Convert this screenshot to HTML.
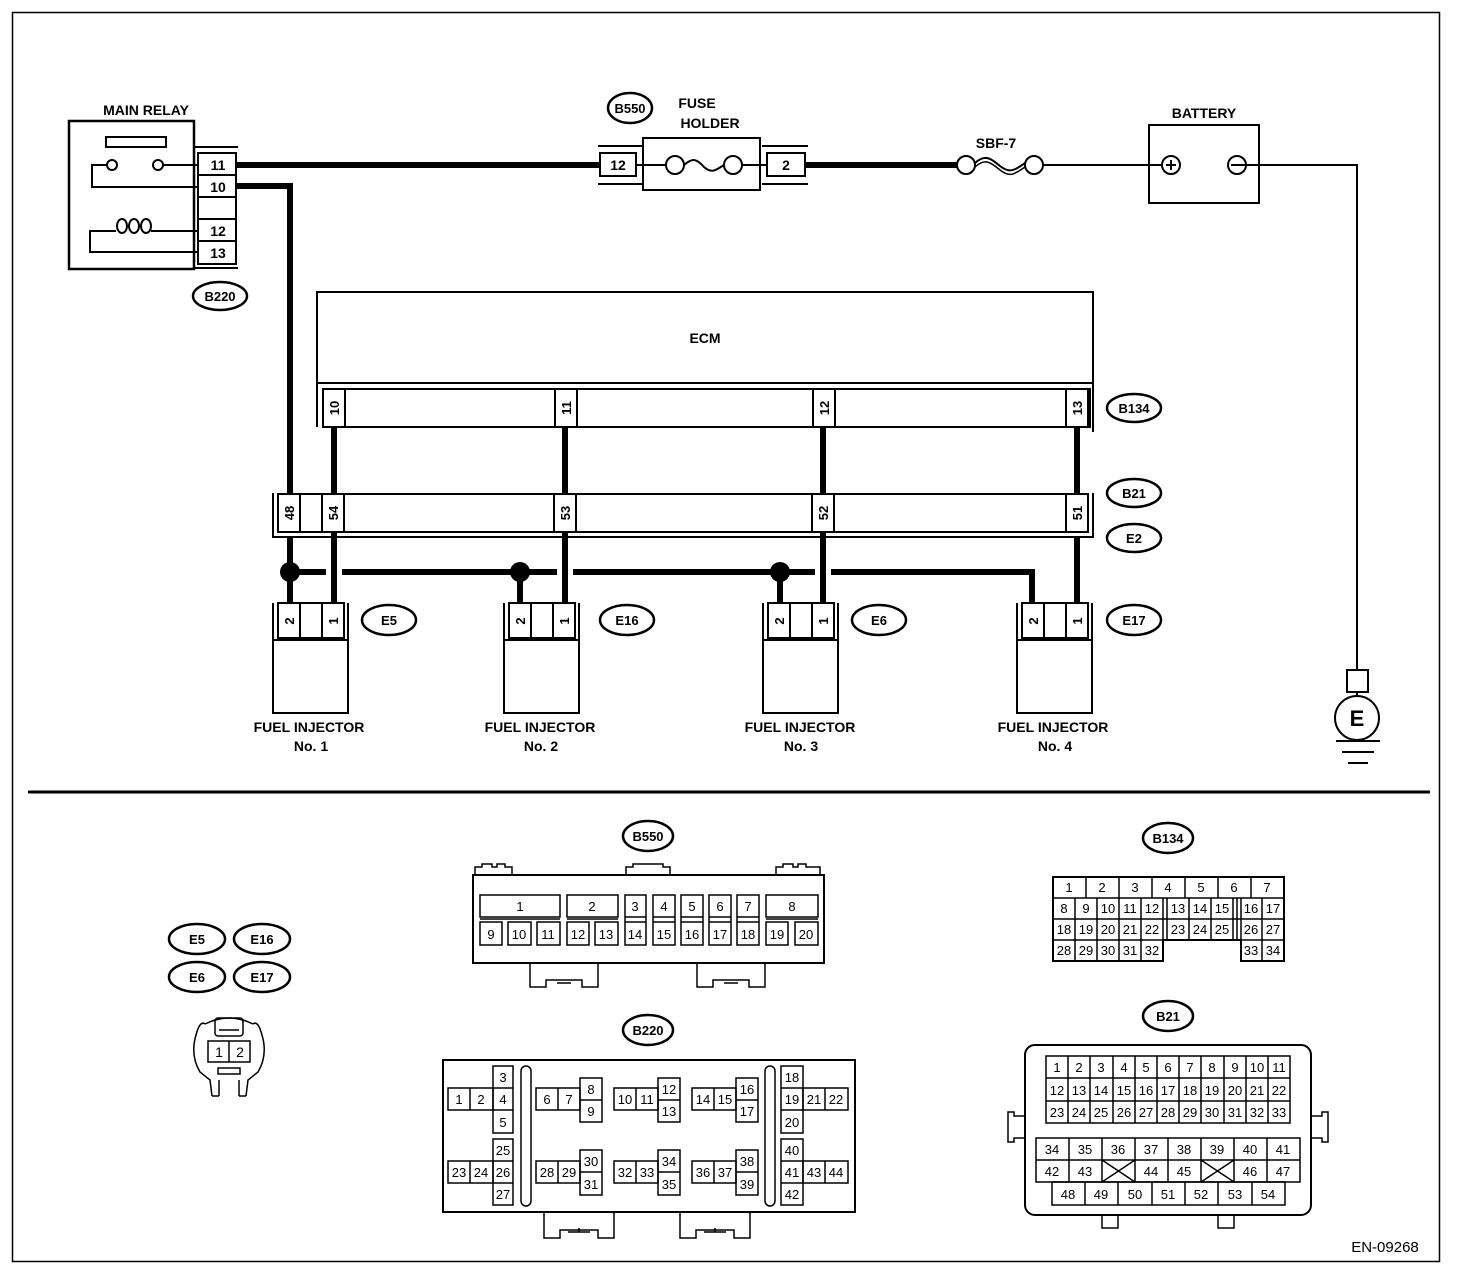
<!DOCTYPE html>
<html><head><meta charset="utf-8">
<style>
html,body{margin:0;padding:0;background:#fff;}
svg{display:block;}
text{font-family:"Liberation Sans",sans-serif;font-weight:bold;fill:#000;}
.n{font-weight:normal;}
</style></head><body>
<svg width="1472" height="1272" viewBox="0 0 1472 1272" xmlns="http://www.w3.org/2000/svg">
<rect x="0" y="0" width="1472" height="1272" fill="#fff"/>
<rect x="12.5" y="12.5" width="1427" height="1249" fill="none" stroke="#000" stroke-width="1.5"/>
<line x1="28" y1="792" x2="1430" y2="792" stroke="#000" stroke-width="3"/>

<g fill="none" stroke="#000" stroke-width="2.5">
<!-- MAIN RELAY -->
<rect x="69" y="121" width="125" height="148"/>
<rect x="106" y="137" width="60" height="10" stroke-width="2"/>
<circle cx="112" cy="165" r="5" stroke-width="2"/>
<circle cx="158" cy="165" r="5" stroke-width="2"/>
<polyline points="107,165 92,165 92,187 197,187" stroke-width="2"/>
<line x1="163" y1="165" x2="197" y2="165" stroke-width="2"/>
<polyline points="116,231 90,231 90,252 197,252" stroke-width="2"/>
<ellipse cx="122" cy="226" rx="5" ry="7" stroke-width="2"/>
<ellipse cx="134" cy="226" rx="5" ry="7" stroke-width="2"/>
<ellipse cx="146" cy="226" rx="5" ry="7" stroke-width="2"/>
<line x1="151" y1="231" x2="197" y2="231" stroke-width="2"/>
<line x1="194" y1="147" x2="238" y2="147" stroke-width="2"/>
<line x1="194" y1="268" x2="238" y2="268" stroke-width="2"/>
<rect x="198" y="153" width="38" height="111" stroke-width="2"/>
<line x1="198" y1="175" x2="236" y2="175" stroke-width="2"/>
<line x1="198" y1="197" x2="236" y2="197" stroke-width="2"/>
<line x1="198" y1="219" x2="236" y2="219" stroke-width="2"/>
<line x1="198" y1="241" x2="236" y2="241" stroke-width="2"/>
<ellipse cx="220" cy="296" rx="27" ry="14"/>

<!-- Fuse holder -->
<line x1="598" y1="146" x2="642" y2="146" stroke-width="2"/>
<line x1="598" y1="184" x2="642" y2="184" stroke-width="2"/>
<rect x="600" y="153" width="36" height="23" stroke-width="2"/>
<rect x="643" y="138" width="117" height="52" stroke-width="2"/>
<line x1="636" y1="165" x2="666" y2="165" stroke-width="2"/>
<line x1="742" y1="165" x2="766" y2="165" stroke-width="2"/>
<circle cx="675" cy="165" r="9" stroke-width="2"/>
<circle cx="733" cy="165" r="9" stroke-width="2"/>
<path d="M684,165 C692,158 696,158 704,167 C712,174 716,170 724,165" stroke-width="2"/>
<line x1="762" y1="146" x2="808" y2="146" stroke-width="2"/>
<line x1="762" y1="184" x2="808" y2="184" stroke-width="2"/>
<rect x="767" y="153" width="38" height="23" stroke-width="2"/>
<ellipse cx="630" cy="108" rx="22" ry="15"/>

<!-- SBF-7 -->
<circle cx="966" cy="165" r="9" stroke-width="2"/>
<circle cx="1034" cy="165" r="9" stroke-width="2"/>
<path d="M975,163 C985,154 990,158 1000,166 C1010,174 1015,170 1025,163" stroke-width="2"/>
<path d="M975,167 C985,158 990,162 1000,170 C1010,178 1015,174 1025,167" stroke-width="1.5"/>
<line x1="1043" y1="165" x2="1161" y2="165" stroke-width="2"/>
<!-- Battery -->
<rect x="1149" y="125" width="110" height="78" stroke-width="2"/>
<circle cx="1171" cy="165" r="9" stroke-width="2"/>
<line x1="1166" y1="165" x2="1176" y2="165" stroke-width="2"/>
<line x1="1171" y1="160" x2="1171" y2="170" stroke-width="2"/>
<circle cx="1237" cy="165" r="9" stroke-width="2"/>
<polyline points="1231,165 1357,165 1357,670" stroke-width="2"/>
<!-- Ground -->
<rect x="1347" y="670" width="21" height="22" stroke-width="2"/>
<line x1="1357" y1="692" x2="1357" y2="696" stroke-width="2"/>
<circle cx="1357" cy="718" r="22" stroke-width="2"/>
<line x1="1336" y1="741" x2="1380" y2="741" stroke-width="2"/>
<line x1="1342" y1="752" x2="1374" y2="752" stroke-width="2"/>
<line x1="1348" y1="763" x2="1368" y2="763" stroke-width="2"/>

<!-- ECM -->
<polyline points="317,385 317,292 1093,292 1093,385" stroke-width="2"/>
<polyline points="317,427 317,383 1093,383 1093,432" stroke-width="2"/>
<rect x="323" y="389" width="767" height="38" stroke-width="2"/>
<rect x="323" y="389" width="22" height="38" stroke-width="2"/>
<rect x="555" y="389" width="22" height="38" stroke-width="2"/>
<rect x="813" y="389" width="22" height="38" stroke-width="2"/>
<rect x="1066" y="389" width="22" height="38" stroke-width="2"/>
<ellipse cx="1134" cy="408" rx="27" ry="14"/>

<!-- B21/E2 -->
<polyline points="273,493 273,537 1093,537 1093,493" stroke-width="2"/>
<rect x="278" y="494" width="810" height="38" stroke-width="2"/>
<line x1="300" y1="494" x2="300" y2="532" stroke-width="2"/>
<rect x="322" y="494" width="22" height="38" stroke-width="2"/>
<rect x="554" y="494" width="22" height="38" stroke-width="2"/>
<rect x="812" y="494" width="22" height="38" stroke-width="2"/>
<rect x="1066" y="494" width="22" height="38" stroke-width="2"/>
<ellipse cx="1134" cy="493" rx="27" ry="14"/>
<ellipse cx="1134" cy="538" rx="27" ry="14"/>

<!-- injectors -->
<g id="inj" stroke-width="2">
<polyline points="273,603 273,640 273,713 348,713 348,603"/>
<line x1="273" y1="640" x2="348" y2="640"/>
<rect x="278" y="603" width="66" height="35"/>
<line x1="300" y1="603" x2="300" y2="638"/>
<line x1="322" y1="603" x2="322" y2="638"/>
</g>
<use href="#inj" x="231"/>
<use href="#inj" x="490"/>
<use href="#inj" x="744"/>
<ellipse cx="389" cy="620" rx="27" ry="15"/>
<ellipse cx="627" cy="620" rx="27" ry="15"/>
<ellipse cx="879" cy="620" rx="27" ry="15"/>
<ellipse cx="1134" cy="620" rx="27" ry="15"/>
</g>

<!-- Thick wires -->
<g fill="none" stroke="#000" stroke-width="6">
<line x1="236" y1="165" x2="600" y2="165"/>
<line x1="805" y1="165" x2="957" y2="165"/>
<polyline points="236,186 290,186 290,494"/>
<line x1="334" y1="427" x2="334" y2="494"/>
<line x1="565" y1="427" x2="565" y2="494"/>
<line x1="823" y1="427" x2="823" y2="494"/>
<line x1="1077" y1="427" x2="1077" y2="494"/>
<line x1="290" y1="537" x2="290" y2="603"/>
<line x1="334" y1="532" x2="334" y2="603"/>
<line x1="565" y1="532" x2="565" y2="603"/>
<line x1="823" y1="532" x2="823" y2="603"/>
<line x1="1077" y1="537" x2="1077" y2="603"/>
<line x1="290" y1="572" x2="326" y2="572"/>
<line x1="342" y1="572" x2="557" y2="572"/>
<line x1="573" y1="572" x2="815" y2="572"/>
<polyline points="831,572 1032,572 1032,603"/>
<line x1="520" y1="572" x2="520" y2="603"/>
<line x1="780" y1="572" x2="780" y2="603"/>
</g>
<circle cx="290" cy="572" r="10"/>
<circle cx="520" cy="572" r="10"/>
<circle cx="780" cy="572" r="10"/>

<!-- texts top -->
<text x="146" y="115" font-size="14" text-anchor="middle">MAIN RELAY</text>
<g font-size="14" text-anchor="middle">
<text x="218" y="170">11</text><text x="218" y="192">10</text>
<text x="218" y="236">12</text><text x="218" y="258">13</text>
<text x="220" y="301" font-size="13">B220</text>
<text x="630" y="113" font-size="13">B550</text>
<text x="697" y="108">FUSE</text>
<text x="710" y="128">HOLDER</text>
<text x="618" y="170">12</text>
<text x="786" y="170">2</text>
<text x="996" y="148">SBF-7</text>
<text x="1204" y="118">BATTERY</text>
<text x="1357" y="726" font-size="22">E</text>
<text x="705" y="343">ECM</text>
<text x="1134" y="413" font-size="13">B134</text>
<text x="1134" y="498" font-size="13">B21</text>
<text x="1134" y="543" font-size="13">E2</text>
<text x="389" y="625" font-size="13">E5</text>
<text x="627" y="625" font-size="13">E16</text>
<text x="879" y="625" font-size="13">E6</text>
<text x="1134" y="625" font-size="13">E17</text>
<text x="309" y="732">FUEL INJECTOR</text><text x="311" y="751">No. 1</text>
<text x="540" y="732">FUEL INJECTOR</text><text x="541" y="751">No. 2</text>
<text x="800" y="732">FUEL INJECTOR</text><text x="801" y="751">No. 3</text>
<text x="1053" y="732">FUEL INJECTOR</text><text x="1055" y="751">No. 4</text>
</g>
<g font-size="13" text-anchor="middle">
<text transform="translate(339,408) rotate(-90)">10</text>
<text transform="translate(571,408) rotate(-90)">11</text>
<text transform="translate(829,408) rotate(-90)">12</text>
<text transform="translate(1082,408) rotate(-90)">13</text>
<text transform="translate(294,513) rotate(-90)">48</text>
<text transform="translate(338,513) rotate(-90)">54</text>
<text transform="translate(570,513) rotate(-90)">53</text>
<text transform="translate(828,513) rotate(-90)">52</text>
<text transform="translate(1082,513) rotate(-90)">51</text>
<text transform="translate(294,621) rotate(-90)">2</text><text transform="translate(338,621) rotate(-90)">1</text>
<text transform="translate(525,621) rotate(-90)">2</text><text transform="translate(569,621) rotate(-90)">1</text>
<text transform="translate(784,621) rotate(-90)">2</text><text transform="translate(828,621) rotate(-90)">1</text>
<text transform="translate(1038,621) rotate(-90)">2</text><text transform="translate(1082,621) rotate(-90)">1</text>
</g>

<!-- ===== Bottom: E5 etc ===== -->
<g fill="none" stroke="#000" stroke-width="2.5">
<ellipse cx="197" cy="939" rx="28" ry="15"/><ellipse cx="262" cy="939" rx="28" ry="15"/>
<ellipse cx="197" cy="977" rx="28" ry="15"/><ellipse cx="262" cy="977" rx="28" ry="15"/>
<g stroke-width="1.5">
<path d="M205,1024 Q200,1020 196,1035 Q190,1055 200,1072 L210,1080 L212,1096 M253,1024 Q258,1020 262,1035 Q268,1055 258,1072 L248,1080 L246,1096"/>
<path d="M205,1024 Q229,1012 253,1024"/>
<rect x="215" y="1018" width="28" height="18" rx="3"/>
<line x1="219" y1="1030" x2="239" y2="1030"/>
<rect x="208" y="1041" width="42" height="21"/>
<line x1="229" y1="1041" x2="229" y2="1062"/>
<rect x="218" y="1068" width="22" height="6"/>
<line x1="219" y1="1080" x2="219" y2="1096"/><line x1="239" y1="1080" x2="239" y2="1096"/>
<line x1="212" y1="1096" x2="219" y2="1096"/><line x1="239" y1="1096" x2="246" y2="1096"/>
</g>
<ellipse cx="648" cy="836" rx="25" ry="15"/>
<ellipse cx="648" cy="1030" rx="25" ry="15"/>
<ellipse cx="1168" cy="838" rx="25" ry="15"/>
<ellipse cx="1168" cy="1016" rx="25" ry="15"/>
</g>
<g font-size="13" text-anchor="middle">
<text x="197" y="944">E5</text><text x="262" y="944">E16</text>
<text x="197" y="982">E6</text><text x="262" y="982">E17</text>
<text x="648" y="841">B550</text><text x="648" y="1035">B220</text>
<text x="1168" y="843">B134</text><text x="1168" y="1021">B21</text>
</g>
<g font-size="14" class="n" text-anchor="middle"><text class="n" x="219" y="1057">1</text><text class="n" x="240" y="1057">2</text></g>

<!-- B550 connector -->
<g fill="none" stroke="#000" stroke-width="1.5">
<rect x="473" y="875" width="351" height="88" stroke-width="2"/>
<path d="M475,875 L475,867 L482,867 L482,864 L492,864 L492,867 L497,867 L497,864 L505,864 L505,867 L512,867 L512,875"/>
<path d="M626,875 L626,867 L633,867 L633,864 L663,864 L663,867 L670,867 L670,875"/>
<path d="M776,875 L776,867 L783,867 L783,864 L793,864 L793,867 L798,867 L798,864 L806,864 L806,867 L820,867 L820,875"/>
<path d="M530,963 L530,987 L546,987 L546,980 L582,980 L582,987 L598,987 L598,963"/>
<line x1="557" y1="983" x2="571" y2="983"/>
<path d="M697,963 L697,987 L713,987 L713,980 L749,980 L749,987 L765,987 L765,963"/>
<line x1="724" y1="983" x2="738" y2="983"/>
<rect x="480" y="895" width="80" height="22"/>
<rect x="480" y="922" width="22" height="23"/><rect x="508" y="922" width="23" height="23"/><rect x="537" y="922" width="23" height="23"/>
<rect x="567" y="895" width="51" height="22"/>
<rect x="567" y="922" width="22" height="23"/><rect x="595" y="922" width="23" height="23"/>
<rect x="625" y="895" width="21" height="50"/><line x1="625" y1="917" x2="646" y2="917"/><line x1="625" y1="922" x2="646" y2="922"/>
<rect x="653" y="895" width="22" height="50"/><line x1="653" y1="917" x2="675" y2="917"/><line x1="653" y1="922" x2="675" y2="922"/>
<rect x="681" y="895" width="22" height="50"/><line x1="681" y1="917" x2="703" y2="917"/><line x1="681" y1="922" x2="703" y2="922"/>
<rect x="709" y="895" width="22" height="50"/><line x1="709" y1="917" x2="731" y2="917"/><line x1="709" y1="922" x2="731" y2="922"/>
<rect x="737" y="895" width="22" height="50"/><line x1="737" y1="917" x2="759" y2="917"/><line x1="737" y1="922" x2="759" y2="922"/>
<rect x="766" y="895" width="52" height="22"/>
<rect x="766" y="922" width="22" height="23"/><rect x="795" y="922" width="23" height="23"/>
<line x1="480" y1="919" x2="560" y2="919"/><line x1="567" y1="919" x2="618" y2="919"/><line x1="766" y1="919" x2="818" y2="919"/>
</g>
<g font-size="13" class="n" text-anchor="middle">
<text class="n" x="520" y="911">1</text><text class="n" x="592" y="911">2</text>
<text class="n" x="635" y="911">3</text><text class="n" x="664" y="911">4</text><text class="n" x="692" y="911">5</text>
<text class="n" x="720" y="911">6</text><text class="n" x="748" y="911">7</text><text class="n" x="792" y="911">8</text>
<text class="n" x="491" y="939">9</text><text class="n" x="519" y="939">10</text><text class="n" x="548" y="939">11</text>
<text class="n" x="578" y="939">12</text><text class="n" x="606" y="939">13</text><text class="n" x="635" y="939">14</text>
<text class="n" x="664" y="939">15</text><text class="n" x="692" y="939">16</text><text class="n" x="720" y="939">17</text>
<text class="n" x="748" y="939">18</text><text class="n" x="777" y="939">19</text><text class="n" x="806" y="939">20</text>
</g>

<!-- B220 connector -->
<g fill="none" stroke="#000" stroke-width="1.5">
<rect x="443" y="1060" width="412" height="152" stroke-width="2"/>
<path d="M544,1212 L544,1238 L560,1238 L560,1230 L598,1230 L598,1238 L614,1238 L614,1212"/>
<line x1="568" y1="1232" x2="590" y2="1232"/><line x1="579" y1="1228" x2="579" y2="1232"/>
<path d="M680,1212 L680,1238 L696,1238 L696,1230 L734,1230 L734,1238 L750,1238 L750,1212"/>
<line x1="704" y1="1232" x2="726" y2="1232"/><line x1="715" y1="1228" x2="715" y2="1232"/>
<rect x="521" y="1066" width="10" height="140" rx="5"/>
<rect x="765" y="1066" width="10" height="140" rx="5"/>
<rect x="493" y="1066" width="20" height="67"/><line x1="493" y1="1088" x2="513" y2="1088"/><line x1="493" y1="1110" x2="513" y2="1110"/>
<rect x="448" y="1088" width="45" height="22"/><line x1="470" y1="1088" x2="470" y2="1110"/>
<rect x="493" y="1139" width="20" height="66"/><line x1="493" y1="1161" x2="513" y2="1161"/><line x1="493" y1="1183" x2="513" y2="1183"/>
<rect x="448" y="1161" width="45" height="22"/><line x1="470" y1="1161" x2="470" y2="1183"/>
<rect x="536" y="1088" width="44" height="22"/><line x1="558" y1="1088" x2="558" y2="1110"/>
<rect x="580" y="1078" width="22" height="44"/><line x1="580" y1="1100" x2="602" y2="1100"/>
<rect x="614" y="1088" width="44" height="22"/><line x1="636" y1="1088" x2="636" y2="1110"/>
<rect x="658" y="1078" width="22" height="44"/><line x1="658" y1="1100" x2="680" y2="1100"/>
<rect x="692" y="1088" width="44" height="22"/><line x1="714" y1="1088" x2="714" y2="1110"/>
<rect x="736" y="1078" width="22" height="44"/><line x1="736" y1="1100" x2="758" y2="1100"/>
<rect x="536" y="1161" width="44" height="22"/><line x1="558" y1="1161" x2="558" y2="1183"/>
<rect x="580" y="1150" width="22" height="45"/><line x1="580" y1="1172" x2="602" y2="1172"/>
<rect x="614" y="1161" width="44" height="22"/><line x1="636" y1="1161" x2="636" y2="1183"/>
<rect x="658" y="1150" width="22" height="45"/><line x1="658" y1="1172" x2="680" y2="1172"/>
<rect x="692" y="1161" width="44" height="22"/><line x1="714" y1="1161" x2="714" y2="1183"/>
<rect x="736" y="1150" width="22" height="45"/><line x1="736" y1="1172" x2="758" y2="1172"/>
<rect x="781" y="1066" width="22" height="67"/><line x1="781" y1="1088" x2="803" y2="1088"/><line x1="781" y1="1110" x2="803" y2="1110"/>
<rect x="803" y="1088" width="45" height="22"/><line x1="825" y1="1088" x2="825" y2="1110"/>
<rect x="781" y="1139" width="22" height="66"/><line x1="781" y1="1161" x2="803" y2="1161"/><line x1="781" y1="1183" x2="803" y2="1183"/>
<rect x="803" y="1161" width="45" height="22"/><line x1="825" y1="1161" x2="825" y2="1183"/>
</g>
<g font-size="13" class="n" text-anchor="middle">
<text class="n" x="503" y="1082">3</text><text class="n" x="459" y="1104">1</text><text class="n" x="481" y="1104">2</text><text class="n" x="503" y="1104">4</text><text class="n" x="503" y="1127">5</text>
<text class="n" x="503" y="1155">25</text><text class="n" x="459" y="1177">23</text><text class="n" x="481" y="1177">24</text><text class="n" x="503" y="1177">26</text><text class="n" x="503" y="1199">27</text>
<text class="n" x="547" y="1104">6</text><text class="n" x="569" y="1104">7</text><text class="n" x="591" y="1094">8</text><text class="n" x="591" y="1116">9</text>
<text class="n" x="625" y="1104">10</text><text class="n" x="647" y="1104">11</text><text class="n" x="669" y="1094">12</text><text class="n" x="669" y="1116">13</text>
<text class="n" x="703" y="1104">14</text><text class="n" x="725" y="1104">15</text><text class="n" x="747" y="1094">16</text><text class="n" x="747" y="1116">17</text>
<text class="n" x="547" y="1177">28</text><text class="n" x="569" y="1177">29</text><text class="n" x="591" y="1166">30</text><text class="n" x="591" y="1189">31</text>
<text class="n" x="625" y="1177">32</text><text class="n" x="647" y="1177">33</text><text class="n" x="669" y="1166">34</text><text class="n" x="669" y="1189">35</text>
<text class="n" x="703" y="1177">36</text><text class="n" x="725" y="1177">37</text><text class="n" x="747" y="1166">38</text><text class="n" x="747" y="1189">39</text>
<text class="n" x="792" y="1082">18</text><text class="n" x="792" y="1104">19</text><text class="n" x="814" y="1104">21</text><text class="n" x="836" y="1104">22</text><text class="n" x="792" y="1127">20</text>
<text class="n" x="792" y="1155">40</text><text class="n" x="792" y="1177">41</text><text class="n" x="814" y="1177">43</text><text class="n" x="836" y="1177">44</text><text class="n" x="792" y="1199">42</text>
</g>

<!-- B134 connector -->
<g fill="none" stroke="#000" stroke-width="1.5">
<path d="M1053,877 L1284,877 L1284,961 L1241,961 L1241,940 L1163,940 L1163,961 L1053,961 Z" stroke-width="2"/>
<line x1="1053" y1="898" x2="1284" y2="898"/><line x1="1053" y1="919" x2="1284" y2="919"/><line x1="1053" y1="940" x2="1163" y2="940"/><line x1="1241" y1="940" x2="1284" y2="940"/>
<line x1="1086" y1="877" x2="1086" y2="898"/><line x1="1119" y1="877" x2="1119" y2="898"/><line x1="1152" y1="877" x2="1152" y2="898"/><line x1="1185" y1="877" x2="1185" y2="898"/><line x1="1218" y1="877" x2="1218" y2="898"/><line x1="1251" y1="877" x2="1251" y2="898"/>
<line x1="1075" y1="898" x2="1075" y2="961"/><line x1="1097" y1="898" x2="1097" y2="961"/><line x1="1119" y1="898" x2="1119" y2="961"/><line x1="1141" y1="898" x2="1141" y2="961"/><line x1="1163" y1="898" x2="1163" y2="940"/>
<line x1="1167" y1="898" x2="1167" y2="940"/><line x1="1189" y1="898" x2="1189" y2="940"/><line x1="1211" y1="898" x2="1211" y2="940"/><line x1="1233" y1="898" x2="1233" y2="940"/>
<line x1="1237" y1="898" x2="1237" y2="940"/><line x1="1241" y1="898" x2="1241" y2="940"/><line x1="1262" y1="898" x2="1262" y2="961"/>
</g>
<g font-size="13" class="n" text-anchor="middle">
<text class="n" x="1069" y="892">1</text><text class="n" x="1102" y="892">2</text><text class="n" x="1135" y="892">3</text><text class="n" x="1168" y="892">4</text><text class="n" x="1201" y="892">5</text><text class="n" x="1234" y="892">6</text><text class="n" x="1267" y="892">7</text>
<text class="n" x="1064" y="913">8</text><text class="n" x="1086" y="913">9</text><text class="n" x="1108" y="913">10</text><text class="n" x="1130" y="913">11</text><text class="n" x="1152" y="913">12</text><text class="n" x="1178" y="913">13</text><text class="n" x="1200" y="913">14</text><text class="n" x="1222" y="913">15</text><text class="n" x="1251" y="913">16</text><text class="n" x="1273" y="913">17</text>
<text class="n" x="1064" y="934">18</text><text class="n" x="1086" y="934">19</text><text class="n" x="1108" y="934">20</text><text class="n" x="1130" y="934">21</text><text class="n" x="1152" y="934">22</text><text class="n" x="1178" y="934">23</text><text class="n" x="1200" y="934">24</text><text class="n" x="1222" y="934">25</text><text class="n" x="1251" y="934">26</text><text class="n" x="1273" y="934">27</text>
<text class="n" x="1064" y="955">28</text><text class="n" x="1086" y="955">29</text><text class="n" x="1108" y="955">30</text><text class="n" x="1130" y="955">31</text><text class="n" x="1152" y="955">32</text><text class="n" x="1251" y="955">33</text><text class="n" x="1273" y="955">34</text>
</g>

<!-- B21 connector -->
<g fill="none" stroke="#000" stroke-width="1.5">
<rect x="1025" y="1045" width="286" height="170" rx="10" stroke-width="2"/>
<path d="M1025,1116 L1014,1116 L1014,1112 L1008,1112 L1008,1142 L1014,1142 L1014,1138 L1025,1138"/>
<path d="M1311,1116 L1322,1116 L1322,1112 L1328,1112 L1328,1142 L1322,1142 L1322,1138 L1311,1138"/>
<path d="M1102,1215 L1102,1228 L1118,1228 L1118,1215"/>
<path d="M1218,1215 L1218,1228 L1234,1228 L1234,1215"/>
<rect x="1046" y="1056" width="244" height="67"/>
<line x1="1046" y1="1078" x2="1290" y2="1078"/><line x1="1046" y1="1101" x2="1290" y2="1101"/>
<line x1="1068" y1="1056" x2="1068" y2="1123"/><line x1="1090" y1="1056" x2="1090" y2="1123"/><line x1="1113" y1="1056" x2="1113" y2="1123"/><line x1="1135" y1="1056" x2="1135" y2="1123"/><line x1="1157" y1="1056" x2="1157" y2="1123"/><line x1="1179" y1="1056" x2="1179" y2="1123"/><line x1="1201" y1="1056" x2="1201" y2="1123"/><line x1="1224" y1="1056" x2="1224" y2="1123"/><line x1="1246" y1="1056" x2="1246" y2="1123"/><line x1="1268" y1="1056" x2="1268" y2="1123"/>
<rect x="1036" y="1138" width="264" height="44"/>
<line x1="1036" y1="1160" x2="1300" y2="1160"/>
<line x1="1069" y1="1138" x2="1069" y2="1182"/><line x1="1102" y1="1138" x2="1102" y2="1182"/><line x1="1135" y1="1138" x2="1135" y2="1182"/><line x1="1168" y1="1138" x2="1168" y2="1182"/><line x1="1201" y1="1138" x2="1201" y2="1182"/><line x1="1234" y1="1138" x2="1234" y2="1182"/><line x1="1267" y1="1138" x2="1267" y2="1182"/>
<line x1="1102" y1="1160" x2="1135" y2="1182"/><line x1="1135" y1="1160" x2="1102" y2="1182"/>
<line x1="1201" y1="1160" x2="1234" y2="1182"/><line x1="1234" y1="1160" x2="1201" y2="1182"/>
<rect x="1052" y="1182" width="233" height="23"/>
<line x1="1085" y1="1182" x2="1085" y2="1205"/><line x1="1118" y1="1182" x2="1118" y2="1205"/><line x1="1152" y1="1182" x2="1152" y2="1205"/><line x1="1185" y1="1182" x2="1185" y2="1205"/><line x1="1218" y1="1182" x2="1218" y2="1205"/><line x1="1252" y1="1182" x2="1252" y2="1205"/>
</g>
<g font-size="13" class="n" text-anchor="middle">
<text class="n" x="1057" y="1072">1</text><text class="n" x="1079" y="1072">2</text><text class="n" x="1101" y="1072">3</text><text class="n" x="1124" y="1072">4</text><text class="n" x="1146" y="1072">5</text><text class="n" x="1168" y="1072">6</text><text class="n" x="1190" y="1072">7</text><text class="n" x="1212" y="1072">8</text><text class="n" x="1235" y="1072">9</text><text class="n" x="1257" y="1072">10</text><text class="n" x="1279" y="1072">11</text>
<text class="n" x="1057" y="1095">12</text><text class="n" x="1079" y="1095">13</text><text class="n" x="1101" y="1095">14</text><text class="n" x="1124" y="1095">15</text><text class="n" x="1146" y="1095">16</text><text class="n" x="1168" y="1095">17</text><text class="n" x="1190" y="1095">18</text><text class="n" x="1212" y="1095">19</text><text class="n" x="1235" y="1095">20</text><text class="n" x="1257" y="1095">21</text><text class="n" x="1279" y="1095">22</text>
<text class="n" x="1057" y="1117">23</text><text class="n" x="1079" y="1117">24</text><text class="n" x="1101" y="1117">25</text><text class="n" x="1124" y="1117">26</text><text class="n" x="1146" y="1117">27</text><text class="n" x="1168" y="1117">28</text><text class="n" x="1190" y="1117">29</text><text class="n" x="1212" y="1117">30</text><text class="n" x="1235" y="1117">31</text><text class="n" x="1257" y="1117">32</text><text class="n" x="1279" y="1117">33</text>
<text class="n" x="1052" y="1154">34</text><text class="n" x="1085" y="1154">35</text><text class="n" x="1118" y="1154">36</text><text class="n" x="1151" y="1154">37</text><text class="n" x="1184" y="1154">38</text><text class="n" x="1217" y="1154">39</text><text class="n" x="1250" y="1154">40</text><text class="n" x="1283" y="1154">41</text>
<text class="n" x="1052" y="1176">42</text><text class="n" x="1085" y="1176">43</text><text class="n" x="1151" y="1176">44</text><text class="n" x="1184" y="1176">45</text><text class="n" x="1250" y="1176">46</text><text class="n" x="1283" y="1176">47</text>
<text class="n" x="1068" y="1199">48</text><text class="n" x="1101" y="1199">49</text><text class="n" x="1135" y="1199">50</text><text class="n" x="1168" y="1199">51</text><text class="n" x="1201" y="1199">52</text><text class="n" x="1235" y="1199">53</text><text class="n" x="1268" y="1199">54</text>
</g>

<text x="1385" y="1252" font-size="15" class="n" text-anchor="middle" style="font-weight:normal">EN-09268</text>
</svg>
</body></html>
